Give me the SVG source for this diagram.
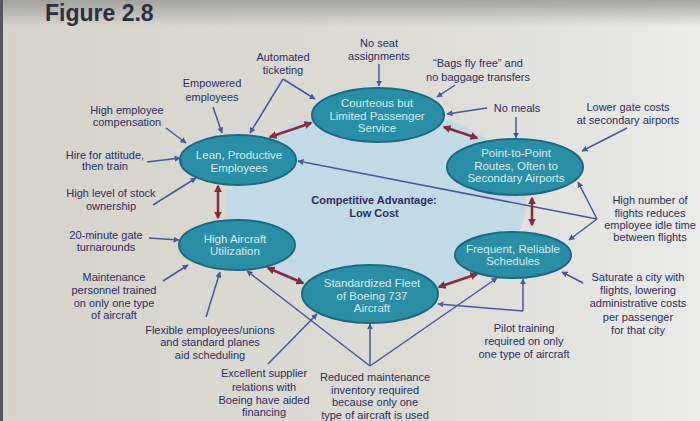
<svg xmlns="http://www.w3.org/2000/svg" width="700" height="421" viewBox="0 0 700 421">
<defs>
<linearGradient id="paper" x1="0" y1="0" x2="1" y2="0">
<stop offset="0" stop-color="#d5d3cb"/>
<stop offset="0.6" stop-color="#dcdbd6"/>
<stop offset="1" stop-color="#eaeae8"/>
</linearGradient>
<linearGradient id="topband" x1="0" y1="0" x2="0" y2="1">
<stop offset="0" stop-color="#9c9c9a" stop-opacity="0.9"/>
<stop offset="1" stop-color="#9c9c9a" stop-opacity="0"/>
</linearGradient>
<marker id="ab" viewBox="0 0 10 10" refX="9" refY="5" markerWidth="6" markerHeight="6" markerUnits="userSpaceOnUse" orient="auto">
<path d="M0,0 L10,5 L0,10 z" fill="#4a5899"/>
</marker>
<marker id="am" viewBox="0 0 10 10" refX="8" refY="5" markerWidth="8" markerHeight="8" markerUnits="userSpaceOnUse" orient="auto-start-reverse">
<path d="M0,0 L10,5 L0,10 z" fill="#8a2a3b"/>
</marker>
</defs>
<style>
.node{fill:#2a8ea6;stroke:#1c6a80;stroke-width:2}
.nt{font-family:"Liberation Sans",Arial,sans-serif;font-size:11.5px;fill:#d3ecf2;text-anchor:middle}
.lb{font-family:"Liberation Sans",Arial,sans-serif;font-size:11px;fill:#2b2f5e;text-anchor:middle}
.bl{stroke:#4a5899;stroke-width:1.5;fill:none;marker-end:url(#ab)}
.mr{stroke:#8a2a3b;stroke-width:2.5;fill:none;marker-start:url(#am);marker-end:url(#am)}
</style>
<rect x="0" y="0" width="700" height="421" fill="url(#paper)"/>
<rect x="0" y="0" width="700" height="26" fill="url(#topband)"/>
<rect x="0" y="0" width="3" height="421" fill="#55575c"/>
<text x="45" y="21" font-family="'Liberation Sans',Arial,sans-serif" font-size="23" font-weight="bold" fill="#2c3142">Figure 2.8</text>

<ellipse id="core" cx="376" cy="203" rx="150" ry="95" fill="#c2dae6"/>

<g id="connectors">
<line class="bl" x1="379" y1="64" x2="379" y2="86"/>
<line class="bl" x1="455" y1="85" x2="437" y2="97"/>
<line class="bl" x1="487" y1="108" x2="447" y2="114"/>
<line class="bl" x1="516" y1="117" x2="516" y2="138"/>
<line class="bl" x1="627" y1="128" x2="582" y2="151"/>
<line class="bl" x1="283" y1="79" x2="315" y2="99"/>
<line class="bl" x1="283" y1="79" x2="250" y2="133"/>
<line class="bl" x1="213" y1="107" x2="222" y2="133"/>
<line class="bl" x1="166" y1="128" x2="186" y2="143"/>
<line class="bl" x1="147" y1="162" x2="180" y2="158"/>
<line class="bl" x1="153" y1="205" x2="196" y2="178"/>
<line class="bl" x1="149" y1="238" x2="179" y2="240"/>
<line class="bl" x1="163" y1="281" x2="188" y2="265"/>
<line class="bl" x1="206" y1="317" x2="220" y2="272"/>
<line class="bl" x1="370" y1="366" x2="247" y2="271"/>
<line class="bl" x1="370" y1="366" x2="370" y2="324"/>
<line class="bl" x1="370" y1="366" x2="497" y2="278"/>
<line class="bl" x1="268" y1="364" x2="317" y2="314"/>
<line class="bl" x1="523" y1="311" x2="438" y2="304"/>
<line class="bl" x1="523" y1="311" x2="523" y2="279"/>
<line class="bl" x1="583" y1="283" x2="562" y2="272"/>
<line class="bl" x1="597" y1="219" x2="298" y2="161"/>
<line class="bl" x1="597" y1="219" x2="578" y2="182"/>
<line class="bl" x1="597" y1="219" x2="569" y2="240"/>

<line class="mr" x1="270" y1="137" x2="311" y2="123"/>
<line class="mr" x1="444" y1="127" x2="477" y2="138"/>
<line class="mr" x1="532" y1="198" x2="532" y2="225"/>
<line class="mr" x1="439" y1="287" x2="477" y2="274"/>
<line class="mr" x1="268" y1="268" x2="303" y2="283"/>
<line class="mr" x1="218" y1="186" x2="218" y2="218"/>
</g>

<g id="courteous">
<ellipse class="node" cx="378" cy="115" rx="66" ry="27"/>
<text class="nt" x="377" y="107">Courteous but</text>
<text class="nt" x="377" y="119.5">Limited Passenger</text>
<text class="nt" x="377" y="132">Service</text>
</g>
<g id="lean">
<ellipse class="node" cx="238" cy="160" rx="58" ry="25"/>
<text class="nt" x="239" y="159">Lean, Productive</text>
<text class="nt" x="239" y="171.5">Employees</text>
</g>
<g id="point">
<ellipse class="node" cx="515" cy="167" rx="68" ry="28"/>
<text class="nt" x="516" y="157">Point-to-Point</text>
<text class="nt" x="516" y="169.5">Routes, Often to</text>
<text class="nt" x="516" y="182">Secondary Airports</text>
</g>
<g id="utilization">
<ellipse class="node" cx="237" cy="245" rx="58" ry="25"/>
<text class="nt" x="235" y="242.5">High Aircraft</text>
<text class="nt" x="235" y="255">Utilization</text>
</g>
<g id="frequent">
<ellipse class="node" cx="513" cy="255" rx="58" ry="23"/>
<text class="nt" x="513" y="252.5">Frequent, Reliable</text>
<text class="nt" x="513" y="265">Schedules</text>
</g>
<g id="fleet">
<ellipse class="node" cx="370" cy="294" rx="68" ry="29"/>
<text class="nt" x="372" y="287">Standardized Fleet</text>
<text class="nt" x="372" y="299.5">of Boeing 737</text>
<text class="nt" x="372" y="312">Aircraft</text>
</g>

<g id="center-label">
<text class="lb" x="374" y="204" font-weight="bold" fill="#22264a">Competitive Advantage:</text>
<text class="lb" x="374" y="217" font-weight="bold" fill="#22264a">Low Cost</text>
</g>

<g id="labels">
<text class="lb" x="283" y="61">Automated</text>
<text class="lb" x="283" y="74">ticketing</text>
<text class="lb" x="379" y="47">No seat</text>
<text class="lb" x="379" y="60">assignments</text>
<text class="lb" x="478" y="67">“Bags fly free” and</text>
<text class="lb" x="478" y="81">no baggage transfers</text>
<text class="lb" x="517" y="112">No meals</text>
<text class="lb" x="628" y="111">Lower gate costs</text>
<text class="lb" x="628" y="124">at secondary airports</text>
<text class="lb" x="212" y="87">Empowered</text>
<text class="lb" x="212" y="101">employees</text>
<text class="lb" x="127" y="114">High employee</text>
<text class="lb" x="127" y="126">compensation</text>
<text class="lb" x="105" y="159">Hire for attitude,</text>
<text class="lb" x="105" y="170">then train</text>
<text class="lb" x="111" y="197">High level of stock</text>
<text class="lb" x="111" y="210">ownership</text>
<text class="lb" x="106" y="239">20-minute gate</text>
<text class="lb" x="106" y="251">turnarounds</text>
<text class="lb" x="114" y="281">Maintenance</text>
<text class="lb" x="114" y="294">personnel trained</text>
<text class="lb" x="114" y="307">on only one type</text>
<text class="lb" x="114" y="319">of aircraft</text>
<text class="lb" x="210" y="334">Flexible employees/unions</text>
<text class="lb" x="210" y="346">and standard planes</text>
<text class="lb" x="210" y="359">aid scheduling</text>
<text class="lb" x="264" y="377">Excellent supplier</text>
<text class="lb" x="264" y="391">relations with</text>
<text class="lb" x="264" y="404">Boeing have aided</text>
<text class="lb" x="264" y="416">financing</text>
<text class="lb" x="375" y="381">Reduced maintenance</text>
<text class="lb" x="375" y="394">inventory required</text>
<text class="lb" x="375" y="406">because only one</text>
<text class="lb" x="375" y="419">type of aircraft is used</text>
<text class="lb" x="524" y="332">Pilot training</text>
<text class="lb" x="524" y="345">required on only</text>
<text class="lb" x="524" y="358">one type of aircraft</text>
<text class="lb" x="638" y="281">Saturate a city with</text>
<text class="lb" x="638" y="294">flights, lowering</text>
<text class="lb" x="638" y="307">administrative costs</text>
<text class="lb" x="638" y="321">per passenger</text>
<text class="lb" x="638" y="334">for that city</text>
<text class="lb" x="650" y="204">High number of</text>
<text class="lb" x="650" y="217">flights reduces</text>
<text class="lb" x="650" y="229">employee idle time</text>
<text class="lb" x="650" y="241">between flights</text>
</g>
</svg>
